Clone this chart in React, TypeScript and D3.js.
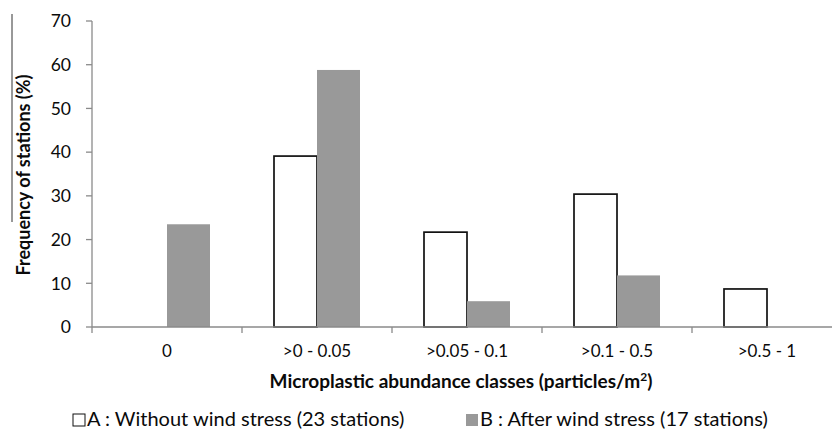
import { useEffect, useRef } from "react"
import * as d3 from "d3"

const categories = ["0", ">0 - 0.05", ">0.05 - 0.1", ">0.1 - 0.5", ">0.5 - 1"]
const seriesA = [0, 39.1, 21.7, 30.4, 8.7]
const seriesB = [23.5, 58.8, 5.9, 11.8, 0]
const yTicks = [0, 10, 20, 30, 40, 50, 60, 70]

const FONT = "Lato, 'Open Sans', sans-serif"

export default function App() {
  const svgRef = useRef<SVGSVGElement>(null)

  useEffect(() => {
    if (!svgRef.current) return
    const svg = d3.select(svgRef.current)
    svg.selectAll("*").remove()

    const width = 832
    const plotLeft = 92
    // last band runs past the right edge of the picture
    const x = d3.scaleBand().domain(categories).range([plotLeft, plotLeft + 150 * categories.length])
    const y = d3.scaleLinear().domain([0, 70]).range([327, 21])
    const barW = 43

    const axisColor = "#8a8a8a"
    const textColor = "#0a0a0a"

    // y axis
    const yAxis = svg.append("g")
    yAxis.append("line")
      .attr("x1", plotLeft).attr("x2", plotLeft)
      .attr("y1", y(70)).attr("y2", y(0))
      .attr("stroke", axisColor).attr("stroke-width", 1.3)
    yAxis.selectAll("line.tick")
      .data(yTicks)
      .join("line")
      .attr("class", "tick")
      .attr("x1", plotLeft - 6).attr("x2", plotLeft)
      .attr("y1", (d) => y(d)).attr("y2", (d) => y(d))
      .attr("stroke", axisColor).attr("stroke-width", 1.3)
    yAxis.selectAll("text")
      .data(yTicks)
      .join("text")
      .attr("x", plotLeft - 21)
      .attr("y", (d) => y(d))
      .attr("dy", "0.36em")
      .attr("text-anchor", "end")
      .attr("font-family", FONT)
      .attr("font-size", 17.5)
      .attr("fill", textColor)
      .text((d) => d)

    // bars
    const g = svg.append("g")
    g.selectAll("rect.a")
      .data(seriesA.map((v, i) => ({ v, c: categories[i] })).filter((d) => d.v > 0))
      .join("rect")
      .attr("class", "a")
      .attr("x", (d) => x(d.c)! + x.bandwidth() / 2 - barW)
      .attr("y", (d) => y(d.v))
      .attr("width", barW)
      .attr("height", (d) => y(0) - y(d.v))
      .attr("fill", "white")
      .attr("stroke", "#111")
      .attr("stroke-width", 1.7)
    g.selectAll("rect.b")
      .data(seriesB.map((v, i) => ({ v, c: categories[i] })).filter((d) => d.v > 0))
      .join("rect")
      .attr("class", "b")
      .attr("x", (d) => x(d.c)! + x.bandwidth() / 2)
      .attr("y", (d) => y(d.v))
      .attr("width", barW)
      .attr("height", (d) => y(0) - y(d.v))
      .attr("fill", "#999999")

    // x axis
    const xAxis = svg.append("g")
    xAxis.append("line")
      .attr("x1", plotLeft).attr("x2", width)
      .attr("y1", y(0)).attr("y2", y(0))
      .attr("stroke", axisColor).attr("stroke-width", 1.3)
    xAxis.selectAll("line.tick")
      .data(categories)
      .join("line")
      .attr("class", "tick")
      .attr("x1", (d) => x(d)!).attr("x2", (d) => x(d)!)
      .attr("y1", y(0)).attr("y2", y(0) + 6)
      .attr("stroke", axisColor).attr("stroke-width", 1.3)
    xAxis.selectAll("text")
      .data(categories)
      .join("text")
      .attr("x", (d) => x(d)! + x.bandwidth() / 2)
      .attr("y", 357)
      .attr("text-anchor", "middle")
      .attr("font-family", FONT)
      .attr("font-size", 17)
      .attr("fill", textColor)
      .text((d) => d)

    // axis titles
    const xt = svg.append("text")
      .attr("x", 461)
      .attr("y", 388)
      .attr("text-anchor", "middle")
      .attr("font-family", FONT)
      .attr("font-size", 19)
      .attr("font-weight", "bold")
      .attr("fill", textColor)
    xt.append("tspan").text("Microplastic abundance classes (particles/m")
    xt.append("tspan").attr("font-size", 12).attr("dy", -7).text("2")
    xt.append("tspan").attr("dy", 7).text(")")

    svg.append("text")
      .attr("transform", "translate(30, 175) rotate(-90)")
      .attr("text-anchor", "middle")
      .attr("font-family", FONT)
      .attr("font-size", 18)
      .attr("font-weight", "bold")
      .attr("fill", textColor)
      .text("Frequency of stations (%)")

    // scan artifact line at left
    svg.append("line")
      .attr("x1", 12).attr("x2", 12).attr("y1", 14).attr("y2", 222)
      .attr("stroke", "#333").attr("stroke-width", 1)

    // legend
    const legend = [
      { label: "A : Without wind stress (23 stations)", fill: "white", stroke: "#111", x: 73 },
      { label: "B : After wind stress (17 stations)", fill: "#999999", stroke: "none", x: 466 },
    ]
    const lg = svg.append("g")
    lg.selectAll("rect")
      .data(legend)
      .join("rect")
      .attr("x", (d) => d.x)
      .attr("y", 414)
      .attr("width", 12)
      .attr("height", 12)
      .attr("fill", (d) => d.fill)
      .attr("stroke", (d) => d.stroke)
      .attr("stroke-width", 1)
    lg.selectAll("text")
      .data(legend)
      .join("text")
      .attr("x", (d) => d.x + 14)
      .attr("y", 426)
      .attr("font-family", FONT)
      .attr("font-size", 20)
      .attr("fill", textColor)
      .text((d) => d.label)
  }, [])

  return (
    <svg
      ref={svgRef}
      width={832}
      height={430}
      style={{ position: "absolute", left: 0, top: 0, background: "white" }}
    />
  )
}
